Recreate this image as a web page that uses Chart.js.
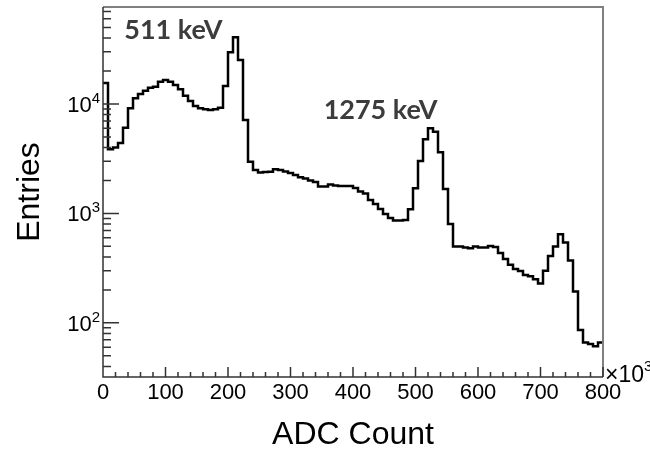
<!DOCTYPE html>
<html>
<head>
<meta charset="utf-8">
<script src="https://cdn.jsdelivr.net/npm/chart.js@4/dist/chart.umd.min.js"></script>
<style>
  html, body { margin: 0; padding: 0; background: #fff; }
</style>
</head>
<body>
<canvas id="spectrum" width="650" height="451"></canvas>
<script>
// ADC spectrum, 100 bins of 8 (x10^3) counts from 0 to 800
const binWidth = 8;
const binCounts = [
  15550, 3860, 4000, 4400, 6080, 9140, 11280, 12340, 13230, 14090,
  14390, 15980, 16560, 15980, 14910, 13620, 11910, 10650, 9590, 9140,
  8950, 8810, 8950, 9250, 14600, 29660, 40650, 25220, 7140, 2970,
  2500, 2360, 2390, 2410, 2530, 2500, 2420, 2340, 2250, 2140,
  2090, 2000, 1940, 1765, 1765, 1840, 1800, 1780, 1780, 1780,
  1710, 1590, 1520, 1330, 1220, 1100, 990, 910, 863, 863,
  872, 1090, 1700, 3020, 4760, 6000, 5590, 3620, 1670, 800,
  498, 498, 489, 481, 498, 487, 487, 505, 494, 436,
  384, 339, 311, 298, 274, 266, 250, 229, 300, 409,
  498, 646, 541, 371, 193, 86, 66, 64, 61, 66
];
const xTickValues = [0, 100, 200, 300, 400, 500, 600, 700, 800];
const yDecades = [2, 3, 4];
const peakNames = ['511 keV', '1275 keV'];
const peakNameX = [34, 353];
const peakNameY = [39200, 7370];

// histogram outline: one point per left bin edge, plus the closing right edge
const points = binCounts.map((c, i) => ({ x: i * binWidth, y: c }));
points.push({ x: binCounts.length * binWidth, y: binCounts[binCounts.length - 1] });

const tickFont = '22px "Liberation Sans", Arial, sans-serif';
const supFont = '15px "Liberation Sans", Arial, sans-serif';

// ROOT style frame: inward ticks, 10^n labels, peak names
const rootFrame = {
  id: 'rootFrame',
  afterDraw(chart) {
    const { ctx, chartArea: a, scales } = chart;
    const x = scales.x, y = scales.y;
    ctx.save();

    ctx.strokeStyle = '#808080';
    ctx.lineWidth = 2;
    ctx.beginPath();
    ctx.moveTo(a.left, a.top);
    ctx.lineTo(a.right, a.top);
    ctx.lineTo(a.right, a.bottom);
    ctx.stroke();

    ctx.strokeStyle = '#333';
    ctx.lineWidth = 1.5;
    ctx.beginPath();
    ctx.moveTo(a.left, a.top);
    ctx.lineTo(a.left, a.bottom);
    ctx.lineTo(a.right, a.bottom);
    // x ticks every 20, long ones every 100
    for (let v = 0; v <= 800; v += 20) {
      const px = x.getPixelForValue(v);
      ctx.moveTo(px, a.bottom);
      ctx.lineTo(px, a.bottom - (v % 100 === 0 ? 10 : 5));
    }
    // y ticks 1..9 per decade
    for (let e = 1; e <= 4; e++) {
      for (let m = 1; m <= 9; m++) {
        const v = m * Math.pow(10, e);
        if (v < y.min || v > y.max) continue;
        const py = y.getPixelForValue(v);
        ctx.moveTo(a.left, py);
        ctx.lineTo(a.left + (m === 1 ? 16 : 8), py);
      }
    }
    ctx.stroke();

    // y labels 10^n
    ctx.fillStyle = '#000';
    ctx.textBaseline = 'alphabetic';
    for (const e of yDecades) {
      const py = y.getPixelForValue(Math.pow(10, e));
      ctx.font = supFont;
      const sw = ctx.measureText(String(e)).width;
      const right = a.left - 3;
      ctx.textAlign = 'left';
      ctx.fillText(String(e), right - sw, py - 1);
      ctx.font = tickFont;
      ctx.textAlign = 'right';
      ctx.fillText('10', right - sw, py + 8);
    }

    // exponent of the x axis
    ctx.textAlign = 'left';
    ctx.font = '23px "Liberation Sans", Arial, sans-serif';
    ctx.fillText('\u00d710', a.right + 2, a.bottom + 5);
    const w = ctx.measureText('\u00d710').width;
    ctx.font = supFont;
    ctx.fillText('3', a.right + 2 + w, a.bottom - 6);

    // peak names
    ctx.fillStyle = '#3c3c3c';
    ctx.font = 'bold 27px Lato, "Open Sans", sans-serif';
    peakNames.forEach((t, i) => {
      ctx.fillText(t, x.getPixelForValue(peakNameX[i]), y.getPixelForValue(peakNameY[i]));
    });
    ctx.restore();
  }
};

const spectrum = document.getElementById('spectrum');
new Chart(spectrum, {
  type: 'line',
  data: {
    datasets: [{
      data: points,
      stepped: 'before',
      borderColor: '#000',
      borderWidth: 2.5,
      pointRadius: 0,
      fill: false
    }]
  },
  options: {
    responsive: false,
    animation: false,
    layout: { padding: { top: 7, right: 47, left: 0, bottom: 0 } },
    plugins: { legend: { display: false }, tooltip: { enabled: false } },
    scales: {
      x: {
        type: 'linear',
        min: 0,
        max: 800,
        afterBuildTicks(scale) { scale.ticks = xTickValues.map(v => ({ value: v })); },
        afterFit(scale) { scale.height = 74; },
        grid: { display: false, drawTicks: false },
        border: { display: false },
        ticks: {
          color: '#000',
          padding: 3,
          maxRotation: 0,
          font: { family: '"Liberation Sans", Arial, sans-serif', size: 22 }
        },
        title: {
          display: true,
          text: 'ADC Count',
          color: '#000',
          padding: 0,
          font: { family: '"Liberation Sans", Arial, sans-serif', size: 32, lineHeight: 1 }
        }
      },
      y: {
        type: 'logarithmic',
        min: 32,
        max: 77000,
        afterFit(scale) { scale.width = 103; },
        grid: { display: false, drawTicks: false },
        border: { display: false },
        ticks: { display: false },
        title: {
          display: true,
          text: 'Entries',
          color: '#000',
          padding: { top: 14, bottom: 0 },
          font: { family: '"Liberation Sans", Arial, sans-serif', size: 32, lineHeight: 1 }
        }
      }
    }
  },
  plugins: [rootFrame]
});
</script>
</body>
</html>
